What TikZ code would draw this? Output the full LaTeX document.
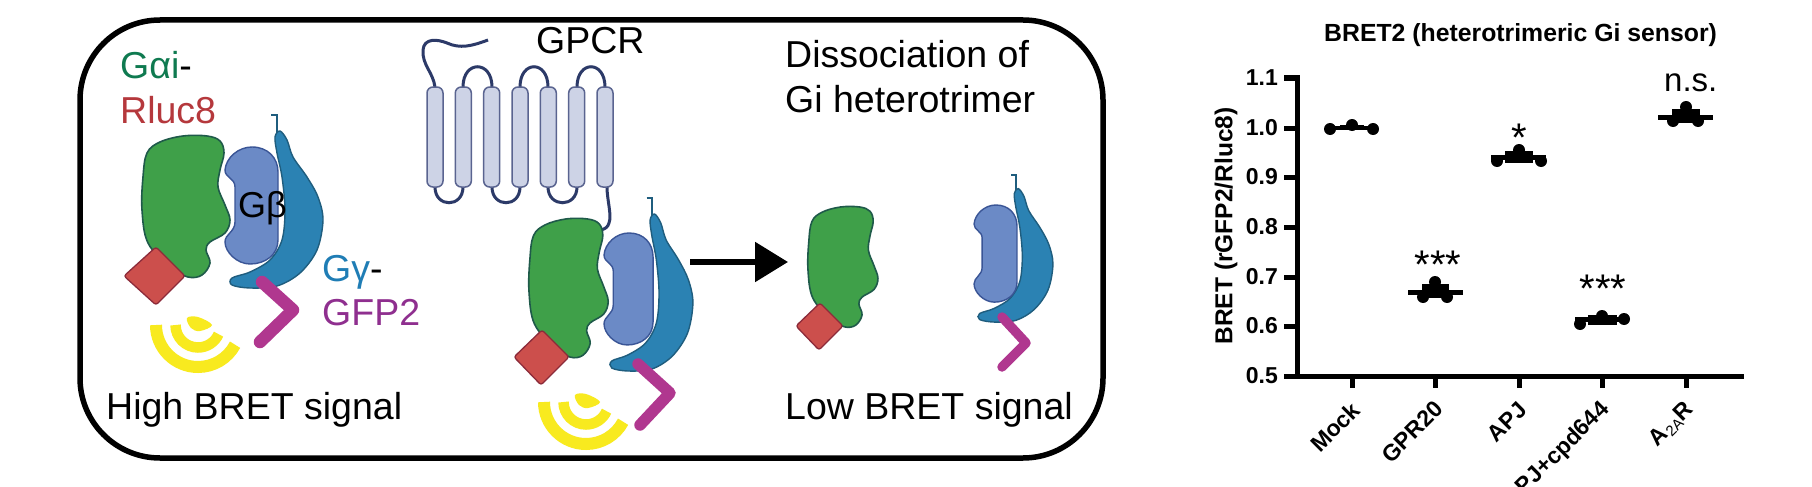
\documentclass[tikz,border=0pt]{standalone}
\usepackage{fontspec}
\setmainfont{Liberation Sans}
\usetikzlibrary{arrows.meta}
\definecolor{gfill}{HTML}{3FA049}
\definecolor{gline}{HTML}{1F5A4A}
\definecolor{dfill}{HTML}{CC4F4C}
\definecolor{dline}{HTML}{8C2B3A}
\definecolor{bfill}{HTML}{6B8AC6}
\definecolor{bline}{HTML}{3A5596}
\definecolor{cfill}{HTML}{2B82B3}
\definecolor{cline}{HTML}{1F5D7E}
\definecolor{mag}{HTML}{B0378F}
\definecolor{yel}{HTML}{F8EA1F}
\definecolor{hfill}{HTML}{CDD3E6}
\definecolor{hline}{HTML}{5A6490}
\definecolor{navy}{HTML}{2C3A68}
\definecolor{tgreen}{HTML}{0F7A50}
\definecolor{tred}{HTML}{B5383C}
\definecolor{tblue}{HTML}{1F7DB5}
\definecolor{tmag}{HTML}{8F2F8F}
\tikzset{
  txt/.style={inner sep=0pt,anchor=base west,font=\fontsize{37.5}{37.5}\selectfont},
  ticklab/.style={inner sep=0pt,anchor=east,font=\fontsize{23}{23}\selectfont\bfseries},
  xlab/.style={inner sep=0pt,anchor=east,rotate=45,font=\fontsize{23}{23}\selectfont\bfseries},
  stars/.style={inner sep=0pt,anchor=base,font=\fontsize{40}{40}\selectfont},
  axisline/.style={line width=5pt,line cap=rect},
  tickline/.style={line width=5pt},
  medline/.style={line width=5pt},
  greenpart/.style={fill=gfill,draw=gline,line width=1.6pt},
  diapart/.style={fill=dfill,draw=dline,line width=1.3pt,rounded corners=2.5pt},
  betapart/.style={fill=bfill,draw=bline,line width=1.4pt},
  gammapart/.style={fill=cfill,draw=cline,line width=1.4pt},
  chevron/.style={draw=mag,line cap=round,line join=round},
  helixbar/.style={fill=hfill,draw=hline,line width=1.5pt,rounded corners=6pt},
  loopline/.style={draw=navy,line width=3pt},
  arcband/.style={draw=yel},
}
\newcommand{\greenshape}{\draw[greenpart] plot[smooth cycle,tension=0.6] coordinates {(207,136)(220,141)(224,153)(220,170)(218,187)(225,205)(230,220)(225,233)(210,242)(206,250)(210,263)(202,275)(188,277)(170,267)(148,243)(142,210)(143,177)(147,153)(160,142)(183,136)};}
\newcommand{\betashape}{\draw[betapart] (225,170) .. controls (226,158) and (238,147) .. (252,147) .. controls (268,147) and (278,158) .. (278,172) -- (278,240) .. controls (278,255) and (265,264) .. (250,264) .. controls (237,264) and (225,252) .. (225,242) .. controls (225,234) and (235,232) .. (235,222) -- (235,187) .. controls (235,178) and (225,178) .. (225,170) -- cycle;}
\newcommand{\gammashape}{\draw[line width=1.4pt,draw=cline] (271,115) -- (277,115) -- (277,133);
  \draw[gammapart] plot[smooth cycle,tension=0.55] coordinates {(280,131)(287,140)(293,157)(307,177)(318,197)(323,220)(317,250)(300,273)(277,286)(250,288)(232,285)(232,278)(250,272)(270,260)(282,240)(285,210)(282,177)(277,153)(275,137)};}
\newcommand{\wavesign}{\draw[arcband,line width=12pt] (156,325) arc[start angle=180,end angle=332,radius=42pt];
  \draw[arcband,line width=10.5pt] (175.5,325) arc[start angle=180,end angle=336,radius=22.5pt];
  \fill[yel] plot[smooth cycle,tension=0.6] coordinates {(187,318)(198,317)(212,325)(200,331)(191,328)};}
\begin{document}
\begin{tikzpicture}[x=1pt,y=-1pt]
\useasboundingbox (0,0) rectangle (1812,487);
\clip (0,0) rectangle (1812,487);
\fill[white] (0,0) rectangle (1812,487);
% frame
\draw[line width=5.5pt,rounded corners=80pt] (80,20) rectangle (1103,458);
% left complex
\gammashape
\betashape
\greenshape
\draw[diapart] (156,247) -- (185,276) -- (156,305) -- (124,276) -- cycle;
\draw[chevron,line width=12.5pt] (262,282) -- (293,310) -- (260,342);
\wavesign
% centre complex
\begin{scope}[shift={(404.8,83)},xscale=0.892]\gammashape\end{scope}
\begin{scope}[shift={(395.9,92.3)},xscale=0.925,yscale=0.957]\betashape\end{scope}
\draw[loopline] (607,187) .. controls (607,200) and (612,215) .. (609,223) .. controls (608,227) and (605,229) .. (601,230);
\begin{scope}[shift={(401.2,85.7)},xscale=0.9,yscale=0.98]\greenshape\end{scope}
\draw[diapart] (542,330) -- (569,357) -- (541,385) -- (514,357) -- cycle;
\draw[chevron,line width=11.5pt] (638,364) -- (670,393) -- (640,425);
\begin{scope}[shift={(388,77)}]\wavesign\end{scope}
% right fragments
\begin{scope}[shift={(695.1,91.4)},xscale=0.795,yscale=0.85]\greenshape\end{scope}
\draw[diapart] (820,303) -- (843,326) -- (819,350) -- (796,326) -- cycle;
\begin{scope}[shift={(792.6,77.25)},xscale=0.806,yscale=0.85]\gammashape\end{scope}
\begin{scope}[shift={(791.8,83)},xscale=0.81,yscale=0.83]\betashape\end{scope}
\draw[chevron,line width=9.5pt] (1002,317) -- (1026,343) -- (1002,367);
% receptor
\draw[loopline] (435,87) .. controls (433,72) and (422,65) .. (423,50) .. controls (424,38) and (437,39) .. (447,43) .. controls (460,49) and (472,46) .. (488,40);
\draw[loopline] (463,87) .. controls (463,60) and (492,60) .. (492,87);
\draw[loopline] (520,87) .. controls (520,60) and (548,60) .. (548,87);
\draw[loopline] (577,87) .. controls (577,60) and (605,60) .. (605,87);
\draw[loopline] (435,187) .. controls (435,208) and (463,208) .. (463,187);
\draw[loopline] (492,187) .. controls (492,208) and (520,208) .. (520,187);
\draw[loopline] (548,187) .. controls (548,208) and (577,208) .. (577,187);
\foreach \hx in {435,463.3,491.7,520,548.3,576.7,605}
  \draw[helixbar] (\hx-8,87) rectangle (\hx+8,187);
% arrow
\coordinate (arrowstart) at (690,262);
\coordinate (arrowend) at (788,262);
\draw[line width=5.5pt,-{Triangle[length=33pt,width=39pt]}] (arrowstart) -- (arrowend);
% texts
\node[txt] (t1) at (120,78) {\textcolor{tgreen}{Gαi}-};
\node[txt] (t2) at (120,123) {\textcolor{tred}{Rluc8}};
\node[txt,font=\fontsize{36}{36}\selectfont] (t3) at (238,217) {Gβ};
\node[txt] (t4) at (322,281) {\textcolor{tblue}{Gγ}-};
\node[txt] (t5) at (322,325) {\textcolor{tmag}{GFP2}};
\node[txt] (t6) at (536,54) {GPCR};
\node[txt] (t7) at (785,67) {Dissociation of};
\node[txt] (t8) at (785,112) {Gi heterotrimer};
\node[txt] (t9) at (106,419) {High BRET signal};
\node[txt] (t10) at (785,419) {Low BRET signal};
% chart
\node[inner sep=0pt,anchor=base west,font=\fontsize{24.8}{24.8}\selectfont\bfseries] (title) at (1324,42) {BRET2 (heterotrimeric Gi sensor)};
\node[inner sep=0pt,anchor=center,rotate=90,font=\fontsize{24.5}{24.5}\selectfont\bfseries] (ylab) at (1226,226) {BRET (rGFP2/Rluc8)};
\draw[axisline] (1297,78) -- (1297,376);
\draw[axisline] (1297,376) -- (1741,376);
\foreach \ty/\tl in {78/1.1,128/1.0,177/0.9,227/0.8,277/0.7,326/0.6,376/0.5}{
  \draw[tickline] (1284,\ty) -- (1297,\ty);
  \node[ticklab] at (1278,\ty) {\tl};
}
\foreach \tx in {1352,1435,1519,1602,1686}
  \draw[tickline] (\tx,376) -- (\tx,388);
\node[xlab] (x1) at (1356,406) {Mock};
\node[xlab] (x2) at (1439,405) {GPR20};
\node[xlab] (x3) at (1523,406) {APJ};
\node[xlab] (x4) at (1606,406) {APJ+cpd644};
\node[xlab] (x5) at (1690,406) {A\raisebox{-3pt}{\fontsize{15}{15}\selectfont\mdseries 2A}R};
% data: Mock
\draw[line width=3.5pt] (1330,128) -- (1373,128);
\foreach \px/\py in {1330/129,1352/125,1373/129} \fill (\px,\py) circle[radius=6pt];
\fill (1340,125) rectangle (1364,130);
% GPR20
\draw[medline] (1408,292) -- (1463,292);
\fill (1422,284) rectangle (1449,298);
\foreach \px/\py in {1435/282,1423/297,1447/297} \fill (\px,\py) circle[radius=6pt];
% APJ
\draw[medline] (1491,157) -- (1546,157);
\fill (1505,151) rectangle (1533,163);
\foreach \px/\py in {1519/150,1497/161,1541/161} \fill (\px,\py) circle[radius=6pt];
% cpd644
\draw[medline] (1575,319) -- (1624,319);
\fill (1588,315) rectangle (1617,325);
\foreach \px/\py in {1602/316,1580/324,1624/319} \fill (\px,\py) circle[radius=6pt];
% A2AR
\draw[medline] (1658,117) -- (1713,117);
\fill (1672,109) rectangle (1700,123);
\foreach \px/\py in {1686/107,1673/121,1698/121} \fill (\px,\py) circle[radius=6pt];
% significance
\node[stars] (s1) at (1438,278) {***};
\node[stars] (s2) at (1519,151) {*};
\node[stars] (s3) at (1603,302) {***};
\node[inner sep=0pt,anchor=base west,font=\fontsize{33}{33}\selectfont] (s4) at (1664,92) {n.s.};
\end{tikzpicture}
\end{document}
